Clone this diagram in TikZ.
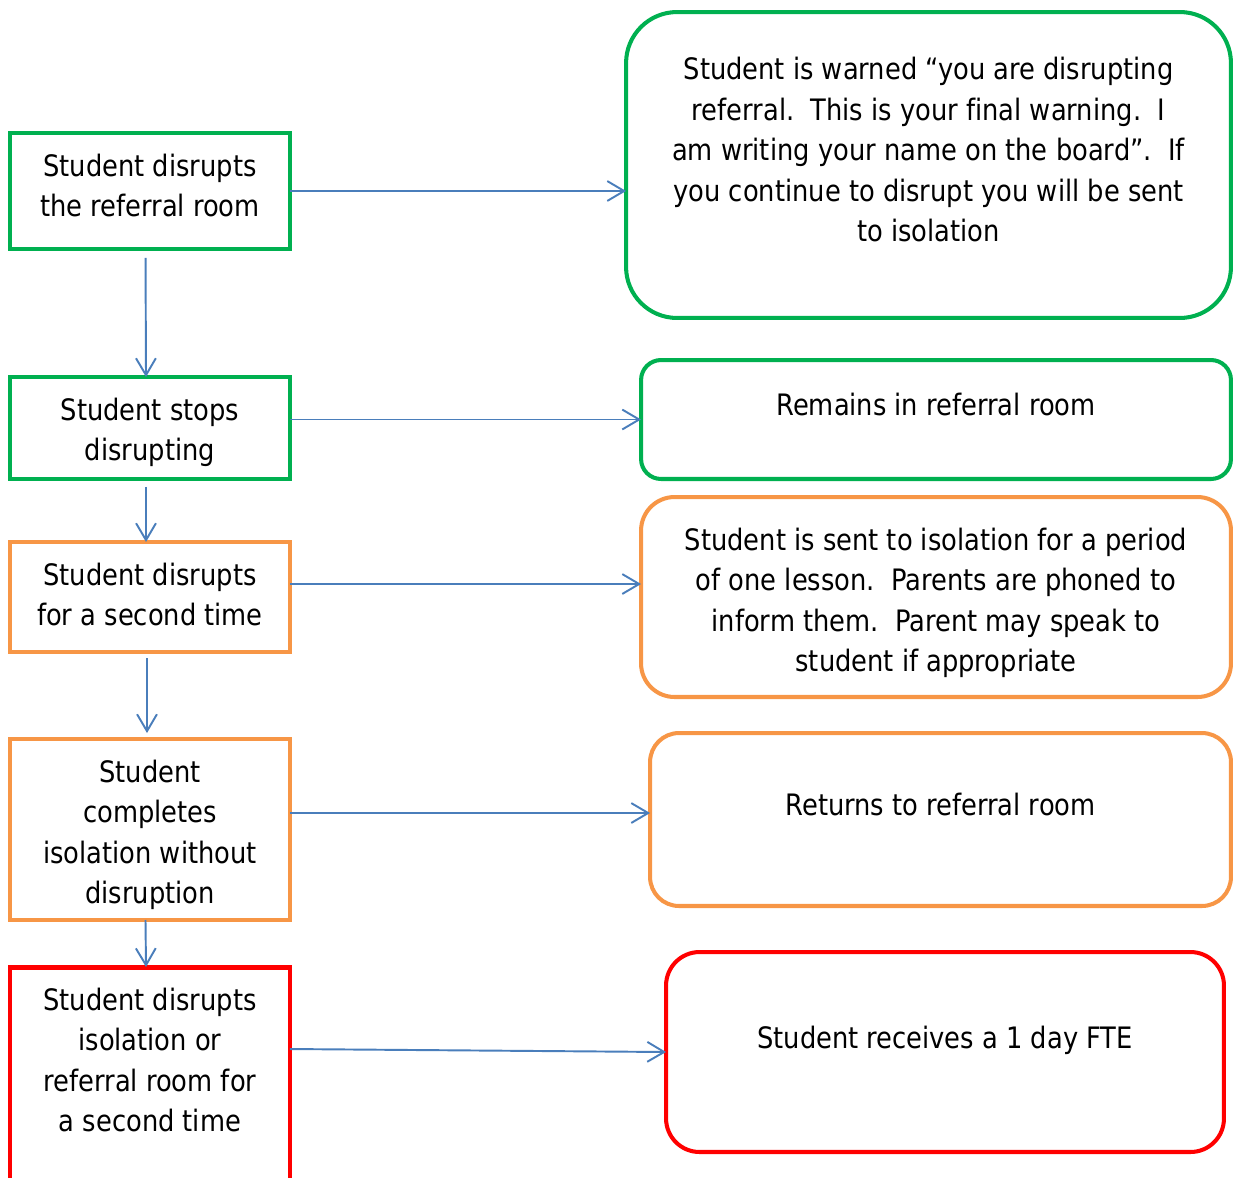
\documentclass[tikz,border=0pt]{standalone}
\usepackage{fontspec}
\setmainfont{DejaVu Sans}[FakeStretch=0.872, Ligatures=CommonOff]
\usetikzlibrary{arrows.meta, positioning, calc}
\definecolor{boxgreen}{HTML}{00B050}
\definecolor{boxorange}{HTML}{F79646}
\definecolor{boxred}{HTML}{FF0000}
\definecolor{flowblue}{HTML}{4A7EBB}

\begin{document}
\begin{tikzpicture}[x=0.02cm, y=-0.02cm,
    lbox/.style={draw=#1, line width=2.8pt, minimum width=5.6cm, outer sep=0pt},
    rbox/.style={draw=#1, line width=2.3pt, outer sep=0pt},
    txt/.style={align=center, inner sep=0pt, font=\fontsize{16.8}{23}\selectfont},
    flow/.style={draw=flowblue, line width=1.1pt, -{Straight Barb[length=9.6pt,width=11.3pt]}}]
  \useasboundingbox (0,0) rectangle (1233,1177);
  % Left column
  \node[lbox=boxgreen, minimum height=2.32cm] (dis1) at (150,191) {};
  \node[txt, below=0.41cm of dis1.north] {Student disrupts\\the referral room};
  \node[lbox=boxgreen, minimum height=2.04cm] (stop) at (150,428) {};
  \node[txt, below=0.41cm of stop.north] {Student stops\\disrupting};
  \node[lbox=boxorange, minimum height=2.2cm] (dis2) at (150,597) {};
  \node[txt, below=0.41cm of dis2.north] {Student disrupts\\for a second time};
  \node[lbox=boxorange, minimum height=3.62cm] (comp) at (150,829.5) {};
  \node[txt, below=0.41cm of comp.north] {Student\\completes\\isolation without\\disruption};
  \node[lbox=boxred, minimum height=5.2cm] (dis3) at (150,1097) {};
  \node[txt, below=0.41cm of dis3.north] {Student disrupts\\isolation or\\referral room for\\a second time};
  % Right column
  \node[rbox=boxgreen, rounded corners=1.02cm, minimum width=12.1cm, minimum height=6.12cm] (warn) at (928.5,165) {};
  \node[txt, below=0.9cm of warn.north] {Student is warned “you are disrupting\\referral.\ \ This is your final warning.\ \ I\\am writing your name on the board”.\ \ If\\you continue to disrupt you will be sent\\to isolation};
  \node[rbox=boxgreen, rounded corners=0.4cm, minimum width=11.8cm, minimum height=2.38cm] (remain) at (936,419.5) {};
  \node[txt, below=0.65cm of remain.north] {Remains in referral room};
  \node[rbox=boxorange, rounded corners=0.67cm, minimum width=11.8cm, minimum height=4cm] (sent) at (936,597) {};
  \node[txt, below=0.61cm of sent.north] {Student is sent to isolation for a period\\of one lesson.\ \ Parents are phoned to\\inform them.\ \ Parent may speak to\\student if appropriate};
  \node[rbox=boxorange, rounded corners=0.58cm, minimum width=11.62cm, minimum height=3.46cm] (back) at (940.5,819.5) {};
  \node[txt, below=1.19cm of back.north] {Returns to referral room};
  \node[rbox=boxred, rounded corners=0.67cm, minimum width=11.16cm, minimum height=4cm] (fte) at (945,1052) {};
  \node[txt, below=1.47cm of fte.north] {Student receives a 1 day FTE};
  % Arrows to the outcomes
  \draw[flow] (dis1.east) -- (dis1.east -| warn.west);
  \draw[flow] (stop.east |- remain.west) -- (remain.west);
  \coordinate (a3) at ([yshift=0.26cm]dis2.east);
  \draw[flow] (a3) -- (a3 -| sent.west);
  \coordinate (a4) at ([yshift=0.33cm]comp.east);
  \draw[flow] (a4) -- (a4 -| back.west);
  \coordinate (a5) at ([yshift=-1.64cm]dis3.north east);
  \draw[flow] (a5) -- (fte.west);
  % Arrows down the left column
  \draw[flow, shorten <=0.18cm] ([xshift=-0.09cm]dis1.south) -- ([xshift=-0.08cm]stop.north);
  \draw[flow, shorten <=0.16cm] ([xshift=-0.08cm]stop.south) -- ([xshift=-0.08cm]dis2.north);
  \draw[flow, shorten <=0.12cm, shorten >=0.12cm] ([xshift=-0.06cm]dis2.south) -- ([xshift=-0.06cm]comp.north);
  \draw[flow] ([xshift=-0.09cm]comp.south) -- ([xshift=-0.08cm]dis3.north);
\end{tikzpicture}
\end{document}
